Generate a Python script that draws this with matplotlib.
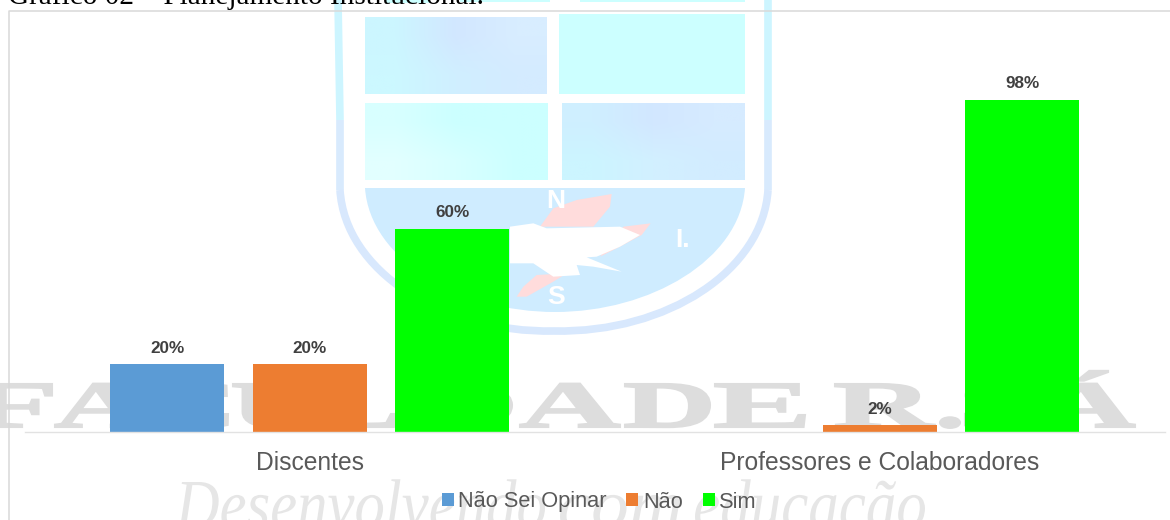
import matplotlib
matplotlib.use("Agg")
import matplotlib.pyplot as plt
from matplotlib.colors import to_rgb
from matplotlib.font_manager import FontProperties
from matplotlib.patches import PathPatch, Polygon, Rectangle
from matplotlib.path import Path
from matplotlib.textpath import TextPath
from matplotlib.transforms import Affine2D

categorias = ["Discentes", "Professores e Colaboradores"]
series = ["Não Sei Opinar", "Não", "Sim"]
nao_sei = [20, 0]
nao = [20, 2]
sim = [60, 98]
cores = ["#5b9bd5", "#ed7d31", "#00ff00"]

titulo = "Gráfico 02 – Planejamento Institucional."

plt.rcParams['font.family'] = ['Liberation Sans', 'DejaVu Sans']

fig = plt.figure(figsize=(11.7, 5.2), dpi=100, facecolor="white")

# fundo: marca d'agua da pagina, em coordenadas de pixel
bg = fig.add_axes([0, 0, 1, 1], zorder=0)
bg.axis("off")


def texto_esticado(s, x0, x1, ytop, ybase, cor, fp, borda=0):
    ref = TextPath((0, 0), "H", size=100, prop=fp).get_extents()
    p = TextPath((0, 0), s, size=100, prop=fp)
    e = p.get_extents()
    sx = (x1 - x0) / e.width
    sy = (ybase - ytop) / ref.height
    t = Affine2D().translate(-e.x0, 0).scale(sx, -sy).translate(x0, ybase)
    bg.add_patch(PathPatch(t.transform_path(p), fc=cor, ec=cor, lw=borda, zorder=2))


def degrade(x, y, w, h, linhas):
    img = [[to_rgb(c) for c in linha] for linha in linhas]
    bg.imshow(img, extent=(x, x + w, y + h, y), aspect="auto", interpolation="bilinear", zorder=1)


# brasao
bg.plot([338, 340], [0, 120], color="#cdf5ff", lw=5.5, solid_capstyle="butt", zorder=1)
bg.plot([340, 340], [120, 190], color="#d8eafd", lw=5.5, solid_capstyle="butt", zorder=1)
bg.plot([768, 768], [0, 120], color="#cdf5ff", lw=5.5, solid_capstyle="butt", zorder=1)
bg.plot([768, 768], [120, 190], color="#d8eafd", lw=5.5, solid_capstyle="butt", zorder=1)
C = Path.CURVE4
borda = Path([(340, 190), (345, 270), (440, 333), (554, 331), (668, 333), (763, 270), (768, 190)],
             [Path.MOVETO, C, C, C, C, C, C])
bg.add_patch(PathPatch(borda, fc="none", ec="#d8e8fd", lw=5.5, zorder=1))

degrade(365, 17, 182, 77, [["#ccf6ff", "#d2e7ff", "#d8edff"], ["#ccf8ff", "#d0efff", "#d4ebff"]])
degrade(562, 103, 183, 77, [["#cfefff", "#d2e7ff", "#d6ebff"], ["#ccf5ff", "#d2f0ff", "#d2ecff"]])
degrade(365, 103, 183, 77, [["#d8ffff", "#ccffff", "#ccffff"], ["#e2ffff", "#d8ffff", "#ccffff"]])
for x, y, w, h, c in [(559, 14, 186, 80, "#ccffff"),
                      (385, 0, 45, 3, "#ccffff"), (460, 0, 90, 2, "#ccffff"),
                      (580, 0, 165, 2, "#ccffff")]:
    bg.add_patch(Rectangle((x, y), w, h, fc=c, ec="none", zorder=1))
painel = Path([(365, 188), (745, 188), (745, 188), (740, 260), (650, 312), (555, 312),
               (460, 312), (370, 260), (365, 188), (365, 188)],
              [Path.MOVETO, Path.LINETO, Path.LINETO, C, C, C, C, C, C, Path.CLOSEPOLY])
bg.add_patch(PathPatch(painel, fc="#cfecff", ec="none", zorder=1))

# ilhas (pontos lidos no recorte, px = 320 + x/3, y/3)
rosa = [[(660, 680), (700, 625), (770, 600), (875, 582), (870, 620), (820, 680)],
        [(840, 770), (900, 740), (965, 705), (992, 670), (910, 680), (880, 720)],
        [(590, 890), (610, 860), (650, 825), (740, 820), (700, 845), (620, 890)]]
for pts in rosa:
    bg.add_patch(Polygon([(320 + a / 3, b / 3) for a, b in pts], fc="#ffdcdc", ec="none", zorder=1))
branco = [(570, 680), (640, 670), (680, 685), (900, 680), (960, 705), (900, 740), (830, 770),
          (800, 772), (905, 815), (820, 800), (770, 795), (780, 825), (700, 830), (640, 790), (570, 790)]
bg.add_patch(Polygon([(320 + a / 3, b / 3) for a, b in branco], fc="white", ec="none", zorder=1))
for s, x, y in [("N", 556, 201), ("S", 556.5, 297), ("I.", 683, 240)]:
    bg.text(x, y, s, color="white", fontsize=19, fontweight="bold", ha="center", va="center", zorder=2)

# FACULDADE R. SÁ
fp_bold = FontProperties(family="Liberation Serif", weight="bold")
letras = [("F", -30, 52), ("A", 55, 150), ("C", 155, 228), ("U", 233, 320), ("L", 325, 396),
          ("D", 405, 512), ("A", 520, 620), ("D", 625, 710), ("E", 715, 805), ("R", 835, 935),
          (".", 940, 960), ("S", 965, 1035), ("Á", 1040, 1135)]
for s, x0, x1 in letras:
    texto_esticado(s, x0, x1, 384, 427, "#dddddd", fp_bold, borda=1.5)

# Desenvolvendo com educação
fp_it = FontProperties(family="Liberation Serif", style="italic")
for s, x0, x1 in [("Desenvolvendo", 175, 545), ("com", 560, 680), ("educação", 695, 925)]:
    texto_esticado(s, x0, x1, 482, 528, "#e6e6e6", fp_it)

# moldura do grafico (sem lado direito visivel) e titulo cortado
bg.plot([8.5, 8.5, 1170], [520, 10.5, 10.5], color="#d9d9d9", lw=1.1, zorder=3)
bg.text(8, 4.5, titulo, family="Liberation Serif", fontsize=21.1, color="black",
        ha="left", va="baseline", zorder=4, clip_on=False)

bg.set_xlim(0, 1170)
bg.set_ylim(520, 0)

# grafico
ax = fig.add_axes([25 / 1170, 88 / 520, 1139.5 / 1170, 406.8 / 520], zorder=1)
ax.patch.set_alpha(0)
x = range(len(categorias))
larg = 0.2
desloc = [-0.25, 0, 0.25]
for valores, d, nome, cor in zip([nao_sei, nao, sim], desloc, series, cores):
    barras = ax.bar([i + d for i in x], valores, larg, color=cor, label=nome)
    for b, v in zip(barras, valores):
        if v > 0:
            ax.annotate(f"{v}%", (b.get_x() + b.get_width() / 2, v), xytext=(0, 6),
                        textcoords="offset points", ha="center", va="bottom",
                        fontsize=12.3, fontweight="bold", color="#404040")

ax.set_xlim(-0.5, 1.5)
ax.set_ylim(0, 120)
ax.set_yticks([])
ax.set_xticks(list(x))
ax.set_xticklabels(categorias, fontsize=17.7, color="#595959")
ax.tick_params(axis="x", length=0, pad=13.8)
for lado in ["top", "left", "right"]:
    ax.spines[lado].set_visible(False)
ax.spines["bottom"].set_color("#e2e2e2")
ax.spines["bottom"].set_linewidth(1)

fig.legend(loc="center", bbox_to_anchor=(599 / 1170, 1 - 502 / 520), ncol=3, frameon=False,
           fontsize=15.7, labelcolor="#595959", handlelength=0.55, handleheight=0.55,
           handletextpad=0.2, columnspacing=0.92, borderpad=0)

fig.savefig("out.png", dpi=100)
